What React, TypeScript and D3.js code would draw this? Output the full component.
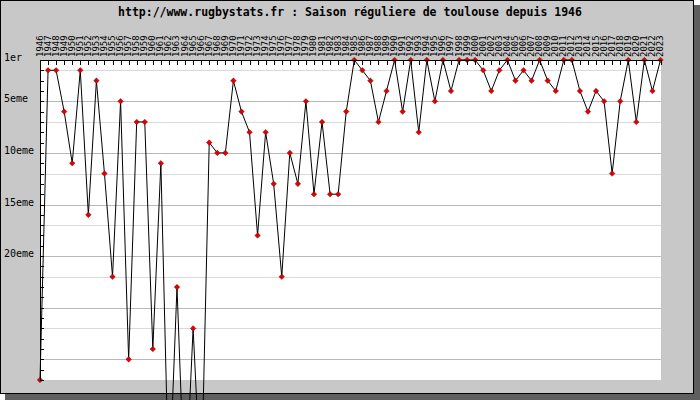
import React from 'react';
import * as d3 from 'd3';

const years = [
  1946, 1947, 1948, 1949, 1950, 1951, 1952, 1953, 1954, 1955,
  1956, 1957, 1958, 1959, 1960, 1961, 1962, 1963, 1964, 1965,
  1966, 1967, 1968, 1969, 1970, 1971, 1972, 1973, 1974, 1975,
  1976, 1977, 1978, 1979, 1980, 1981, 1982, 1983, 1984, 1985,
  1986, 1987, 1988, 1989, 1990, 1991, 1992, 1993, 1994, 1995,
  1996, 1997, 1998, 1999, 2000, 2001, 2002, 2003, 2004, 2005,
  2006, 2007, 2008, 2009, 2010, 2011, 2012, 2013, 2014, 2015,
  2016, 2017, 2018, 2019, 2020, 2021, 2022, 2023,
];

const ranks = [
  32, 2, 2, 6, 11, 2, 16, 3, 12, 22,
  5, 30, 7, 7, 29, 11, 43, 23, 44, 27,
  43, 9, 10, 10, 3, 6, 8, 18, 8, 13,
  22, 10, 13, 5, 14, 7, 14, 14, 6, 1,
  2, 3, 7, 4, 1, 6, 1, 8, 1, 5,
  1, 4, 1, 1, 1, 2, 4, 2, 1, 3,
  2, 3, 1, 3, 4, 1, 1, 4, 6, 4,
  5, 12, 5, 1, 7, 1, 4, 1,
];

const yLabelRanks = [1, 5, 10, 15, 20];
const yLabelTexts = ['1er', '5eme', '10eme', '15eme', '20eme'];
const majorGridRanks = [5, 10, 15, 20, 25, 30];
const minorGridRanks = [2, 7, 12, 17, 22, 27];
const tickRanks = [1, 2, 3, 4, 5, 6, 7, 8, 9, 10, 11, 12, 13, 14, 15, 16, 17, 18, 19, 20, 21, 22, 23, 24, 25, 26, 27, 28, 29, 30, 31, 32];

const title = 'http://www.rugbystats.fr : Saison réguliere de toulouse depuis 1946';

const W = 700;
const H = 400;
const PL = 40;
const PR = 660.5;
const PT = 60;
const PB = 380;
const MONO = '"DejaVu Sans Mono", "Liberation Mono", monospace';
const MARK = 'M0,-2.8L2.8,0L0,2.8L-2.8,0Z';

export default function App() {
  const x = d3.scaleLinear().domain([years[0], years[years.length - 1]]).range([PL, PR]);
  const y = d3.scaleLinear().domain([1, 32]).range([PT, PB]);
  const data = years.map((yr, i) => ({ yr, r: ranks[i] }));
  const line = d3.line<{ yr: number; r: number }>().x(d => x(d.yr)).y(d => y(d.r));

  return (
    <svg width={W} height={H} style={{ position: 'absolute', left: 0, top: 0, display: 'block' }}>
      <rect x={5} y={5} width={W - 5} height={H - 5} fill="#5f5f5f" />
      <rect x={0.5} y={0.5} width={693} height={393} fill="#c8c8c8" stroke="#000" strokeWidth={1} />
      <rect x={PL} y={PT} width={661 - PL} height={PB - PT} fill="#fff" />
      {minorGridRanks.map(r => (
        <line key={'mi' + r} x1={PL} x2={661} y1={Math.round(y(r)) + 0.5} y2={Math.round(y(r)) + 0.5} stroke="#dadada" />
      ))}
      {majorGridRanks.map(r => (
        <line key={'ma' + r} x1={PL} x2={661} y1={Math.round(y(r)) + 0.5} y2={Math.round(y(r)) + 0.5} stroke="#b9b9b9" />
      ))}
      <text x={350} y={16} textAnchor="middle" fontFamily={MONO} fontSize={11.5} fontWeight="bold" fill="#000">
        {title}
      </text>
      <path d={line(data) || ''} fill="none" stroke="#000" strokeWidth={1} />
      {data.map(d => (
        <path
          key={'m' + d.yr}
          d={MARK}
          transform={`translate(${x(d.yr)},${y(d.r)})`}
          fill="#e00000"
          stroke="#700000"
          strokeWidth={0.4}
        />
      ))}
      <line x1={PL + 0.5} x2={PL + 0.5} y1={PT} y2={PB} stroke="#000" />
      {tickRanks.map(r => (
        <line key={'yt' + r} x1={PL} x2={PL + 4} y1={Math.round(y(r)) + 0.5} y2={Math.round(y(r)) + 0.5} stroke="#000" />
      ))}
      {yLabelRanks.map((r, i) => (
        <text key={'yl' + r} x={4} y={y(r) - 2} dominantBaseline="middle" fontFamily={MONO} fontSize={10} fill="#000">
          {yLabelTexts[i]}
        </text>
      ))}
      <line x1={PL} x2={661} y1={PT + 0.5} y2={PT + 0.5} stroke="#000" />
      {years.map(yr => (
        <line key={'xt' + yr} x1={Math.round(x(yr)) + 0.5} x2={Math.round(x(yr)) + 0.5} y1={PT} y2={PT + 5} stroke="#000" />
      ))}
      {years.map(yr => (
        <text
          key={'xl' + yr}
          transform={`translate(${x(yr)},${PT - 3}) rotate(-90)`}
          dominantBaseline="middle"
          textAnchor="start"
          fontFamily={MONO}
          fontSize={9}
          fill="#000"
        >
          {yr}
        </text>
      ))}
    </svg>
  );
}
